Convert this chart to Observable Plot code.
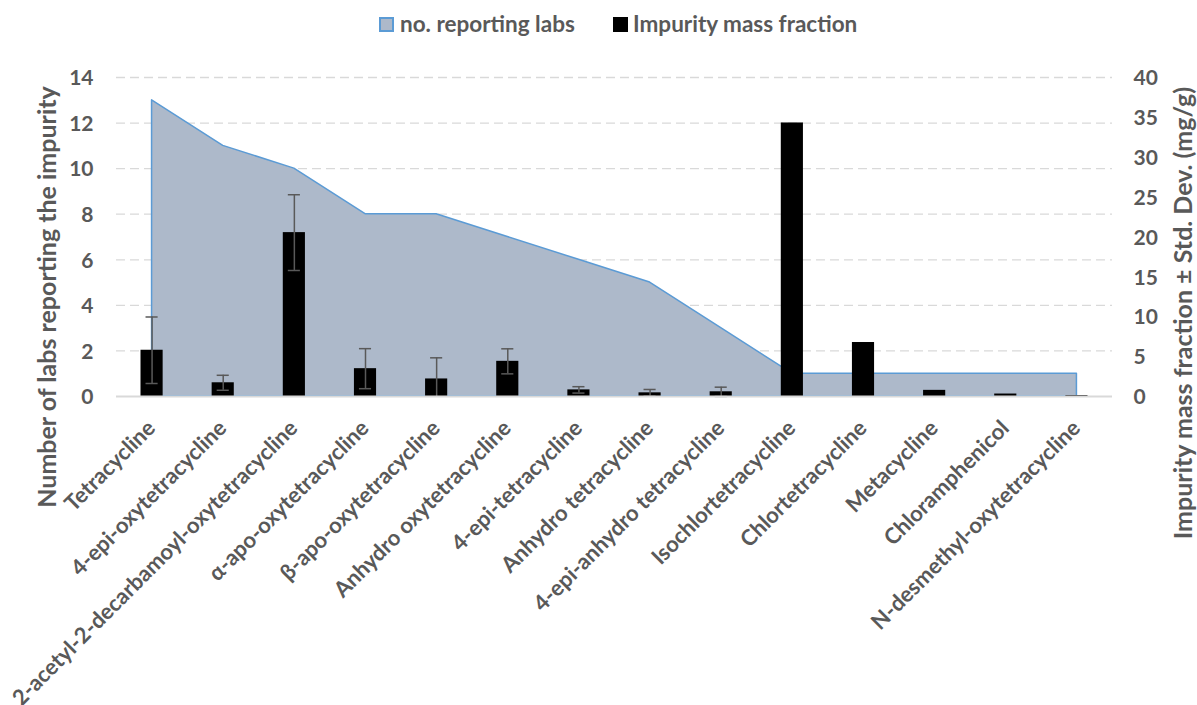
<!DOCTYPE html>
<html>
<head>
<meta charset="utf-8">
<script src="https://cdn.jsdelivr.net/npm/d3@7"></script>
<script src="https://cdn.jsdelivr.net/npm/@observablehq/plot@0.6"></script>
<style>
  body { margin: 0; background: #fff; font-family: Lato, "Open Sans", sans-serif; }
  #legend { position: relative; height: 50px; width: 1197px; color: #595959; font-weight: 700; font-size: 22.5px; }
  #legend .sw { position: absolute; top: 17px; width: 15px; height: 15px; box-sizing: border-box; }
  #legend .lb { position: absolute; top: 10px; line-height: 28px; white-space: nowrap; }
  #chart svg text { font-weight: 700; }
</style>
</head>
<body>
<div id="legend">
  <div class="sw" style="left:379px;background:#ADB9CA;border:2px solid #5B9BD5;"></div>
  <div class="lb" style="left:400px;">no. reporting labs</div>
  <div class="sw" style="left:613px;background:#000;"></div>
  <div class="lb" style="left:633px;">Impurity mass fraction</div>
</div>
<div id="chart"></div>
<script>
const categories = [
  "Tetracycline",
  "4-epi-oxytetracycline",
  "2-acetyl-2-decarbamoyl-oxytetracycline",
  "α-apo-oxytetracycline",
  "β-apo-oxytetracycline",
  "Anhydro oxytetracycline",
  "4-epi-tetracycline",
  "Anhydro tetracycline",
  "4-epi-anhydro tetracycline",
  "Isochlortetracycline",
  "Chlortetracycline",
  "Metacycline",
  "Chloramphenicol",
  "N-desmethyl-oxytetracycline"
];
const labs = [13, 11, 10, 8, 8, 7, 6, 5, 3, 1, 1, 1, 1, 1];
const massFraction = [5.8, 1.72, 20.55, 3.49, 2.2, 4.41, 0.83, 0.46, 0.59, 34.3, 6.77, 0.77, 0.31, 0.12];
const stdDev = [4.17, 0.94, 4.75, 2.51, 2.65, 1.57, 0.4, 0.42, 0.58, null, null, null, null, null];
const leftTicks = [0, 2, 4, 6, 8, 10, 12, 14];
const rightTicks = [0, 5, 10, 15, 20, 25, 30, 35, 40];
const leftTitle = "Number of labs reporting the impurity";
const rightTitle = "Impurity mass fraction ± Std. Dev. (mg/g)";
const leftMax = 14, rightMax = 40;
const k = leftMax / rightMax; // right-axis units -> left-axis units

const rows = categories.map((name, i) => ({i, name, labs: labs[i], mass: massFraction[i], sd: stdDev[i]}));
const errRows = rows.filter(d => d.sd != null);
const lowRows = errRows.filter(d => d.mass - d.sd > 0);
const capHalf = 0.085;

const chart = Plot.plot({
  width: 1197,
  height: 655,
  marginTop: 27,
  marginBottom: 309,
  marginLeft: 116,
  marginRight: 85,
  style: {fontFamily: "Lato, 'Open Sans', sans-serif", fontSize: "21px", color: "#595959", background: "#fff"},
  x: {type: "linear", domain: [-0.5, categories.length - 0.5], axis: null},
  y: {domain: [0, leftMax], axis: null},
  marks: [
    Plot.gridY(leftTicks.slice(1), {stroke: "#D9D9D9", strokeOpacity: 1, strokeWidth: 1.3, strokeDasharray: "9,5"}),
    Plot.areaY(rows, {x: "i", y: "labs", fill: "#ADB9CA", stroke: "#5B9BD5", strokeWidth: 1.5}),
    Plot.rectY(rows, {x1: d => d.i - 0.5, x2: d => d.i + 0.5, y: d => d.mass * k, fill: "#000", insetLeft: 24.5, insetRight: 24.5}),
    Plot.ruleX(errRows, {x: "i", y1: d => Math.max(0, d.mass - d.sd) * k, y2: d => (d.mass + d.sd) * k, stroke: "#595959", strokeWidth: 1.5}),
    Plot.ruleY(errRows, {y: d => (d.mass + d.sd) * k, x1: d => d.i - capHalf, x2: d => d.i + capHalf, stroke: "#595959", strokeWidth: 1.5}),
    Plot.ruleY(lowRows, {y: d => (d.mass - d.sd) * k, x1: d => d.i - capHalf, x2: d => d.i + capHalf, stroke: "#595959", strokeWidth: 1.5}),
    Plot.ruleY([0], {stroke: "#D9D9D9", strokeWidth: 2}),
    Plot.axisY({anchor: "left", ticks: leftTicks, tickSize: 0, tickPadding: 23, dy: 1, label: null}),
    Plot.axisY({anchor: "right", ticks: rightTicks.map(v => v * k), tickFormat: d => String(Math.round(d / k)), tickSize: 0, tickPadding: 21, dy: 1, label: null}),
    Plot.text(rows, {x: "i", frameAnchor: "bottom", text: "name", rotate: -45, textAnchor: "end", lineAnchor: "top", dx: -6.5, dy: 22, fontSize: 22}),
    Plot.text([leftTitle], {frameAnchor: "left", textAnchor: "middle", lineAnchor: "middle", text: d => d, rotate: -90, dx: -69, dy: 60, fontSize: 25}),
    Plot.text([rightTitle], {frameAnchor: "right", textAnchor: "middle", lineAnchor: "middle", text: d => d, rotate: -90, dx: 71.5, dy: 76, fontSize: 25})
  ]
});
document.getElementById("chart").appendChild(chart);
</script>
</body>
</html>
